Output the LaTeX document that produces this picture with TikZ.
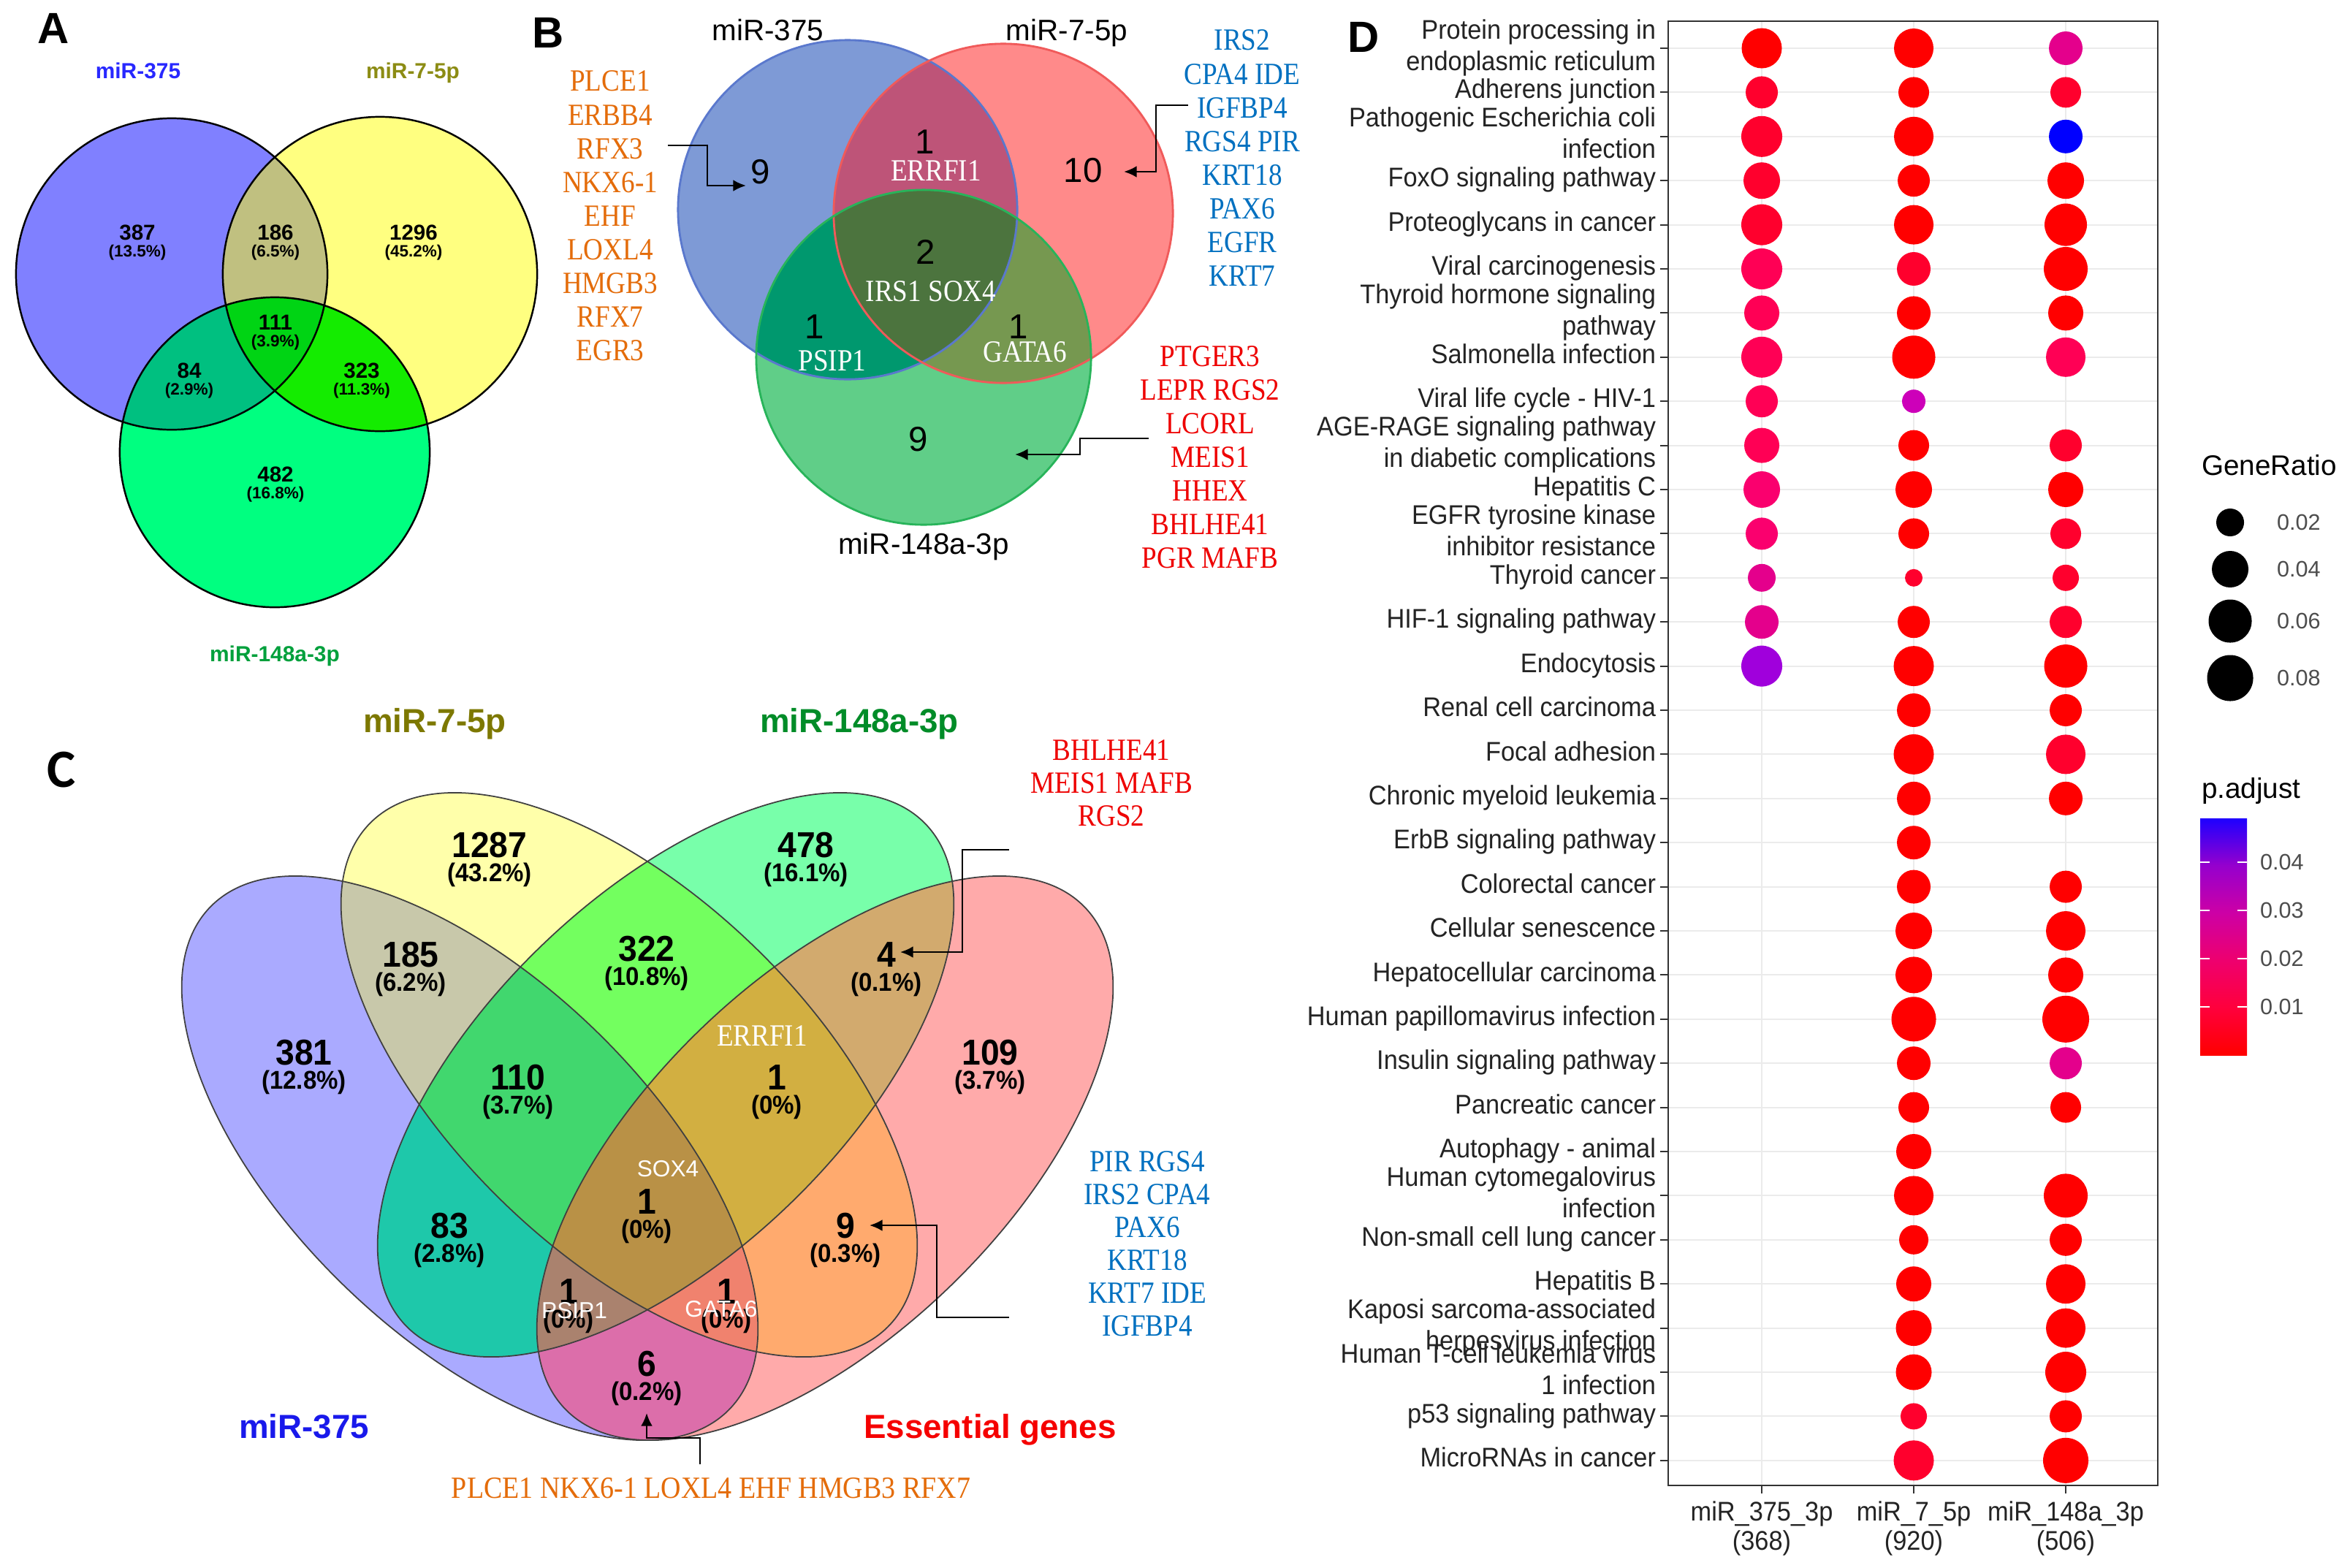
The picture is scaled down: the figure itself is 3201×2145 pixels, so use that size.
\documentclass[tikz,border=0pt]{standalone}
\usepackage{fontspec}
\usepackage{graphicx}
\setmainfont{Liberation Serif}
\setsansfont{Liberation Sans}
\newfontfamily\carl{Carlito}
\usetikzlibrary{arrows.meta}
% panel A colours
\definecolor{aB}{RGB}{128,128,255}\definecolor{aY}{RGB}{255,255,128}\definecolor{aG}{RGB}{0,255,128}
\definecolor{aBY}{RGB}{192,192,128}\definecolor{aBG}{RGB}{0,192,128}\definecolor{aYG}{RGB}{20,236,0}\definecolor{aAll}{RGB}{0,212,20}
\definecolor{aT1}{RGB}{40,40,255}\definecolor{aT2}{RGB}{140,140,20}\definecolor{aT3}{RGB}{0,160,60}
% panel B colours
\definecolor{bB}{RGB}{126,154,214}\definecolor{bR}{RGB}{255,138,138}\definecolor{bG}{RGB}{96,206,136}
\definecolor{bBR}{RGB}{190,84,120}\definecolor{bBG}{RGB}{0,152,110}\definecolor{bRG}{RGB}{118,152,80}\definecolor{bAll}{RGB}{76,116,62}
\definecolor{bBe}{RGB}{90,120,205}\definecolor{bRe}{RGB}{240,90,90}\definecolor{bGe}{RGB}{40,180,90}
% panel C colours
\definecolor{cA}{RGB}{170,170,255}\definecolor{cB}{RGB}{255,255,170}\definecolor{cC}{RGB}{120,255,170}\definecolor{cD}{RGB}{255,170,170}
\definecolor{cAB}{RGB}{200,200,170}\definecolor{cBC}{RGB}{115,255,95}\definecolor{cCD}{RGB}{210,170,110}
\definecolor{cAC}{RGB}{30,200,170}\definecolor{cBD}{RGB}{255,170,110}\definecolor{cAD}{RGB}{220,110,170}
\definecolor{cABC}{RGB}{65,215,110}\definecolor{cBCD}{RGB}{210,175,65}\definecolor{cABD}{RGB}{240,130,110}
\definecolor{cACD}{RGB}{170,130,110}\definecolor{cABCD}{RGB}{185,145,70}
\definecolor{cT1}{RGB}{25,25,235}\definecolor{cT2}{RGB}{125,120,0}\definecolor{cT3}{RGB}{0,140,40}\definecolor{cT4}{RGB}{245,0,0}
% text colours
\definecolor{tOrange}{RGB}{228,108,10}\definecolor{tBlue}{RGB}{0,112,192}\definecolor{tRed}{RGB}{238,0,0}
% panel D colours
\definecolor{dr0}{RGB}{255,0,0}\definecolor{dr1}{RGB}{255,0,45}\definecolor{dr2}{RGB}{255,0,85}\definecolor{dr3}{RGB}{250,0,110}
\definecolor{dm1}{RGB}{228,0,140}\definecolor{dm2}{RGB}{205,0,185}\definecolor{dpu}{RGB}{160,0,220}\definecolor{dbl}{RGB}{0,0,255}
\definecolor{dtext}{RGB}{35,35,35}\definecolor{dgrid}{RGB}{235,235,235}\definecolor{dbord}{RGB}{51,51,51}\definecolor{dleg}{RGB}{77,77,77}
\definecolor{pa0}{RGB}{255,0,0}\definecolor{pa1}{RGB}{255,0,60}\definecolor{pa2}{RGB}{238,0,110}
\definecolor{pa3}{RGB}{205,0,165}\definecolor{pa4}{RGB}{150,0,205}\definecolor{pa5}{RGB}{30,0,255}
\pgfdeclareverticalshading{padj}{100bp}{color(0bp)=(pa0); color(25bp)=(pa0); color(35bp)=(pa1); color(45bp)=(pa2); color(55bp)=(pa3); color(65bp)=(pa4); color(75bp)=(pa5); color(100bp)=(pa5)}
\newcommand\fsz[2]{\fontsize{#1}{#2}\selectfont}
\newcommand\nx[2]{\scalebox{#1}[1]{\begin{tabular}{@{}c@{}}#2\end{tabular}}}
\newcommand\rx[1]{\scalebox{0.93}[1]{\begin{tabular}{@{}r@{}}#1\end{tabular}}}
\newcommand\cn[1]{\scalebox{0.94}[1]{#1}}
% count + percentage blocks
\newcommand\ca[2]{\begin{tabular}{@{}c@{}}#1\\[-3.6pt]\fsz{6.4}{7.5}(#2\%)\end{tabular}}
\newcommand\cc[2]{\begin{tabular}{@{}c@{}}\cn{#1}\\[-6.6pt]\fsz{10}{12}\cn{(#2\%)}\end{tabular}}
% panel A circles
\newcommand\CAb{(235,375) circle [radius=2.13cm]}
\newcommand\CAy{(520,375) circle [radius=2.15cm]}
\newcommand\CAg{(376,619) circle [radius=2.12cm]}
% panel B circles
\newcommand\CBb{(1160,287) circle [radius=2.32cm]}
\newcommand\CBr{(1373,292) circle [radius=2.32cm]}
\newcommand\CBg{(1264,489) circle [radius=2.29cm]}
% panel C ellipses
\newcommand\EA{(643,1585) ellipse [x radius=4.94cm, y radius=2.45cm]}
\newcommand\EB{(861,1471) ellipse [x radius=4.94cm, y radius=2.45cm]}
\newcommand\EC{(911,1471) ellipse [x radius=4.94cm, y radius=2.45cm]}
\newcommand\ED{(1129,1585) ellipse [x radius=4.94cm, y radius=2.45cm]}
\begin{document}
\begin{tikzpicture}[x=0.01cm,y=-0.01cm,
  every node/.style={inner sep=0pt, outer sep=0pt},
  eA/.style={rotate around={-44:(643,1585)}},
  eB/.style={rotate around={-44:(861,1471)}},
  eC/.style={rotate around={44:(911,1471)}},
  eD/.style={rotate around={44:(1129,1585)}},
  plab/.style={font={\sffamily\bfseries\fsz{17}{20}}},
  acnt/.style={font={\sffamily\bfseries\fsz{8.4}{10}}},
  atit/.style={font={\sffamily\bfseries\fsz{8.5}{10}}, anchor=base},
  btit/.style={font={\sffamily\fsz{11.5}{13}}, anchor=base},
  bnum/.style={font={\sffamily\fsz{13.5}{15}}},
  bwhite/.style={font={\rmfamily\fsz{12}{13}}, text=white},
  glist/.style={font={\rmfamily\fsz{12}{13.1}}},
  glistc/.style={font={\rmfamily\fsz{12}{12.8}}},
  ccnt/.style={font={\sffamily\bfseries\fsz{14}{16}}},
  ctit/.style={font={\sffamily\bfseries\fsz{13}{15}}, anchor=base},
  cwsans/.style={font={\sffamily\fsz{9}{10}}, text=white},
  arr/.style={line width=0.8pt, -{Latex[length=5pt,width=4.5pt]}},
  cedge/.style={draw=black!75, line width=0.5pt},
  dlab/.style={font={\sffamily\fsz{10.5}{12.2}}, text=dtext, anchor=east},
  daxis/.style={font={\sffamily\fsz{10.5}{11.4}}, text=dtext},
  ltit/.style={font={\sffamily\fsz{11}{13}}, text=black, anchor=west},
  ltxt/.style={font={\sffamily\fsz{8.7}{10}}, text=dleg, anchor=west},
  grid/.style={draw=dgrid, line width=0.6pt},
  tick/.style={draw=dbord, line width=0.6pt}
]
\useasboundingbox (0,0) rectangle (3201,2145);
\fill[white] (0,0) rectangle (3201,2145);

%================ Panel A ================
\fill[aB] \CAb; \fill[aY] \CAy; \fill[aG] \CAg;
\begin{scope}\clip \CAb; \fill[aBY] \CAy; \end{scope}
\begin{scope}\clip \CAb; \fill[aBG] \CAg; \end{scope}
\begin{scope}\clip \CAy; \fill[aYG] \CAg; \end{scope}
\begin{scope}\clip \CAb; \clip \CAy; \fill[aAll] \CAg; \end{scope}
\draw[line width=0.7pt] \CAb; \draw[line width=0.7pt] \CAy; \draw[line width=0.7pt] \CAg;
\node[plab] (labA) at (73,39) {A};
\node[atit, text=aT1] (aT1n) at (189,107) {miR-375};
\node[atit, text=aT2] (aT2n) at (565,107) {miR-7-5p};
\node[atit, text=aT3] (aT3n) at (376,905) {miR-148a-3p};
\node[acnt] (a1) at (188,333) {\ca{387}{13.5}};
\node[acnt] (a2) at (377,333) {\ca{186}{6.5}};
\node[acnt] (a3) at (566,333) {\ca{1296}{45.2}};
\node[acnt] (a4) at (377,456) {\ca{111}{3.9}};
\node[acnt] (a5) at (259,522) {\ca{84}{2.9}};
\node[acnt] (a6) at (495,522) {\ca{323}{11.3}};
\node[acnt] (a7) at (377,664) {\ca{482}{16.8}};

%================ Panel B ================
\fill[bB] \CBb; \fill[bR] \CBr; \fill[bG] \CBg;
\begin{scope}\clip \CBb; \fill[bBR] \CBr; \end{scope}
\begin{scope}\clip \CBb; \fill[bBG] \CBg; \end{scope}
\begin{scope}\clip \CBr; \fill[bRG] \CBg; \end{scope}
\begin{scope}\clip \CBb; \clip \CBr; \fill[bAll] \CBg; \end{scope}
\draw[bBe, line width=0.8pt] \CBb; \draw[bRe, line width=0.8pt] \CBr; \draw[bGe, line width=0.8pt] \CBg;
\node[plab] (labB) at (750,45) {B};
\node[btit] (bT1) at (1051,55) {miR-375};
\node[btit] (bT2) at (1460,55) {miR-7-5p};
\node[btit] (bT3) at (1264,758) {miR-148a-3p};
\node[bnum] (b9a) at (1041,235) {9};
\node[bnum] (b1a) at (1266,194) {1};
\node[bwhite] (bw1) at (1281,234) {\scalebox{0.88}[1]{ERRFI1}};
\node[bnum] (b10) at (1482,233) {10};
\node[bnum] (b2) at (1267,345) {2};
\node[bwhite] (bw2) at (1274,399) {\scalebox{0.88}[1]{IRS1 SOX4}};
\node[bnum] (b1b) at (1115,447) {1};
\node[bwhite] (bw3) at (1139,494) {\scalebox{0.88}[1]{PSIP1}};
\node[bnum] (b1c) at (1394,447) {1};
\node[bwhite] (bw4) at (1403,482) {\scalebox{0.88}[1]{GATA6}};
\node[bnum] (b9b) at (1257,601) {9};
\node[glist, text=tOrange] (bl1) at (835,300) {\nx{0.88}{PLCE1\\ERBB4\\RFX3\\NKX6-1\\EHF\\LOXL4\\HMGB3\\RFX7\\EGR3}};
\node[glist, text=tBlue] (bl2) at (1700,221) {\nx{0.88}{IRS2\\CPA4 IDE\\IGFBP4\\RGS4 PIR\\KRT18\\PAX6\\EGFR\\KRT7}};
\node[glist, text=tRed] (bl3) at (1656,630) {\nx{0.88}{PTGER3\\LEPR RGS2\\LCORL\\MEIS1\\HHEX\\BHLHE41\\PGR MAFB}};
\coordinate (ba1s) at (914,199); \coordinate (ba1b) at (968,254); \coordinate (ba1e) at (1021,254);
\draw[arr] (ba1s) -| (ba1b) -- (ba1e);
\coordinate (ba2s) at (1626,144); \coordinate (ba2b) at (1582,235); \coordinate (ba2e) at (1538,235);
\draw[arr] (ba2s) -| (ba2b) -- (ba2e);
\coordinate (ba3s) at (1572,600); \coordinate (ba3b) at (1478,622); \coordinate (ba3e) at (1389,622);
\draw[arr] (ba3s) -| (ba3b) -- (ba3e);

%================ Panel C ================
\fill[cA,eA] \EA; \fill[cB,eB] \EB; \fill[cC,eC] \EC; \fill[cD,eD] \ED;
\begin{scope}\clip[eA] \EA; \fill[cAB,eB] \EB; \end{scope}
\begin{scope}\clip[eA] \EA; \fill[cAC,eC] \EC; \end{scope}
\begin{scope}\clip[eA] \EA; \fill[cAD,eD] \ED; \end{scope}
\begin{scope}\clip[eB] \EB; \fill[cBC,eC] \EC; \end{scope}
\begin{scope}\clip[eB] \EB; \fill[cBD,eD] \ED; \end{scope}
\begin{scope}\clip[eC] \EC; \fill[cCD,eD] \ED; \end{scope}
\begin{scope}\clip[eA] \EA; \clip[eB] \EB; \fill[cABC,eC] \EC; \end{scope}
\begin{scope}\clip[eA] \EA; \clip[eB] \EB; \fill[cABD,eD] \ED; \end{scope}
\begin{scope}\clip[eA] \EA; \clip[eC] \EC; \fill[cACD,eD] \ED; \end{scope}
\begin{scope}\clip[eB] \EB; \clip[eC] \EC; \fill[cBCD,eD] \ED; \end{scope}
\begin{scope}\clip[eA] \EA; \clip[eB] \EB; \clip[eC] \EC; \fill[cABCD,eD] \ED; \end{scope}
\draw[cedge,eA] \EA; \draw[cedge,eB] \EB; \draw[cedge,eC] \EC; \draw[cedge,eD] \ED;
\node[font={\carl\bfseries\fsz{21}{24}}] (labC) at (84,1054) {C};
\node[ctit, text=cT2] (cT2n) at (595,1002) {miR-7-5p};
\node[ctit, text=cT3] (cT3n) at (1176,1002) {miR-148a-3p};
\node[ctit, text=cT1] (cT1n) at (416,1968) {miR-375};
\node[ctit, text=cT4] (cT4n) at (1355,1968) {Essential genes};
\node[ccnt] (c1) at (670,1179) {\cc{1287}{43.2}};
\node[ccnt] (c2) at (1103,1179) {\cc{478}{16.1}};
\node[ccnt] (c3) at (562,1329) {\cc{185}{6.2}};
\node[ccnt] (c4) at (885,1321) {\cc{322}{10.8}};
\node[ccnt] (c5) at (1213,1329) {\cc{4}{0.1}};
\node[ccnt] (c6) at (416,1463) {\cc{381}{12.8}};
\node[ccnt] (c7) at (1355,1463) {\cc{109}{3.7}};
\node[ccnt] (c8) at (709,1497) {\cc{110}{3.7}};
\node[font={\rmfamily\fsz{12}{13}}, text=white] (cw1) at (1043,1418) {\scalebox{0.88}[1]{ERRFI1}};
\node[ccnt] (c9) at (1063,1497) {\cc{1}{0}};
\node[cwsans] (cw2) at (914,1600) {SOX4};
\node[ccnt] (c10) at (885,1667) {\cc{1}{0}};
\node[ccnt] (c11) at (615,1700) {\cc{83}{2.8}};
\node[ccnt] (c12) at (1157,1700) {\cc{9}{0.3}};
\node[ccnt] (c13) at (778,1790) {\cc{1}{0}};
\node[cwsans] (cw3) at (786,1794) {PSIP1};
\node[ccnt] (c14) at (994,1790) {\cc{1}{0}};
\node[cwsans] (cw4) at (987,1792) {GATA6};
\node[ccnt] (c15) at (885,1889) {\cc{6}{0.2}};
\node[glistc, text=tRed] (cl1) at (1521,1076) {\nx{0.88}{BHLHE41\\MEIS1 MAFB\\RGS2}};
\node[glistc, text=tBlue] (cl2) at (1570,1707) {\nx{0.88}{PIR RGS4\\IRS2 CPA4\\PAX6\\KRT18\\KRT7 IDE\\IGFBP4}};
\node[glistc, text=tOrange] (cl3) at (973,2037) {\scalebox{0.9}[1]{PLCE1 NKX6-1 LOXL4 EHF HMGB3 RFX7}};
\coordinate (ca1s) at (1381,1163); \coordinate (ca1b) at (1317,1303); \coordinate (ca1e) at (1232,1303);
\draw[arr, line width=0.7pt] (ca1s) -| (ca1b) -- (ca1e);
\coordinate (ca2s) at (1381,1803); \coordinate (ca2b) at (1282,1677); \coordinate (ca2e) at (1190,1677);
\draw[arr, line width=0.7pt] (ca2s) -| (ca2b) -- (ca2e);
\coordinate (ca3s) at (958,2004); \coordinate (ca3b) at (885,1968); \coordinate (ca3e) at (885,1934);
\draw[arr, line width=0.7pt] (ca3s) |- (ca3b) -- (ca3e);

%================ Panel D ================
\node[plab] (labD) at (1866,51) {D};
\foreach \r in {1,...,33} \draw[grid] (2283,{66+(\r-1)*60.4}) -- (2953,{66+(\r-1)*60.4});
\foreach \c in {1,2,3} \draw[grid] ({2203+208*\c},29) -- ({2203+208*\c},2033);
\foreach \r/\c/\s/\k in {
 1/1/27.5/dr0, 1/2/27/dr0, 1/3/23/dm1,
 2/1/22/dr1, 2/2/21/dr0, 2/3/21/dr1,
 3/1/28/dr1, 3/2/27/dr0, 3/3/23/dbl,
 4/1/25/dr1, 4/2/22/dr0, 4/3/25/dr0,
 5/1/28/dr1, 5/2/27/dr0, 5/3/29/dr0,
 6/1/28/dr2, 6/2/23/dr1, 6/3/30/dr0,
 7/1/24/dr2, 7/2/23/dr0, 7/3/24/dr0,
 8/1/28/dr2, 8/2/29.5/dr0, 8/3/27/dr2,
 9/1/22/dr2, 9/2/16/dm2,
 10/1/24/dr2, 10/2/21/dr0, 10/3/22/dr1,
 11/1/25/dr3, 11/2/25/dr0, 11/3/24/dr0,
 12/1/22/dr3, 12/2/21/dr0, 12/3/21/dr1,
 13/1/19/dm1, 13/2/12/dr1, 13/3/18/dr1,
 14/1/23/dm1, 14/2/22/dr0, 14/3/22/dr1,
 15/1/28/dpu, 15/2/27.5/dr0, 15/3/29.5/dr0,
 16/2/23/dr0, 16/3/22/dr0,
 17/2/27.5/dr0, 17/3/27/dr1,
 18/2/23/dr0, 18/3/23/dr0,
 19/2/23/dr0,
 20/2/23/dr0, 20/3/22/dr0,
 21/2/25/dr0, 21/3/27/dr0,
 22/2/25/dr0, 22/3/24/dr0,
 23/2/30.5/dr0, 23/3/32/dr0,
 24/2/23/dr0, 24/3/22/dm1,
 25/2/21/dr0, 25/3/21/dr0,
 26/2/24/dr0,
 27/2/27/dr0, 27/3/30/dr0,
 28/2/20/dr0, 28/3/22/dr0,
 29/2/24/dr0, 29/3/27/dr0,
 30/2/24.5/dr0, 30/3/27/dr0,
 31/2/24.5/dr0, 31/3/28/dr0,
 32/2/18/dr1, 32/3/22/dr0,
 33/2/27.5/dr1, 33/3/31/dr0}
 \fill[\k] ({2203+208*\c},{66+(\r-1)*60.4}) circle [radius={\s*0.01cm}];
\draw[dbord, line width=0.8pt] (2283,29) rectangle (2953,2033);
\foreach \r in {1,...,33} \draw[tick] (2272,{66+(\r-1)*60.4}) -- (2283,{66+(\r-1)*60.4});
\foreach \c in {1,2,3} \draw[tick] ({2203+208*\c},2033) -- ({2203+208*\c},2044);
\node[dlab] (d1) at (2266,66) {\rx{Protein processing in\\endoplasmic reticulum}};
\node[dlab] (d2) at (2266,126.4) {\rx{Adherens junction}};
\node[dlab] (d3) at (2266,186.8) {\rx{Pathogenic Escherichia coli\\infection}};
\node[dlab] (d4) at (2266,247.2) {\rx{FoxO signaling pathway}};
\node[dlab] (d5) at (2266,307.6) {\rx{Proteoglycans in cancer}};
\node[dlab] (d6) at (2266,368) {\rx{Viral carcinogenesis}};
\node[dlab] (d7) at (2266,428.4) {\rx{Thyroid hormone signaling\\pathway}};
\node[dlab] (d8) at (2266,488.8) {\rx{Salmonella infection}};
\node[dlab] (d9) at (2266,549.2) {\rx{Viral life cycle - HIV-1}};
\node[dlab] (d10) at (2266,609.6) {\rx{AGE-RAGE signaling pathway\\in diabetic complications}};
\node[dlab] (d11) at (2266,670) {\rx{Hepatitis C}};
\node[dlab] (d12) at (2266,730.4) {\rx{EGFR tyrosine kinase\\inhibitor resistance}};
\node[dlab] (d13) at (2266,790.8) {\rx{Thyroid cancer}};
\node[dlab] (d14) at (2266,851.2) {\rx{HIF-1 signaling pathway}};
\node[dlab] (d15) at (2266,911.6) {\rx{Endocytosis}};
\node[dlab] (d16) at (2266,972) {\rx{Renal cell carcinoma}};
\node[dlab] (d17) at (2266,1032.4) {\rx{Focal adhesion}};
\node[dlab] (d18) at (2266,1092.8) {\rx{Chronic myeloid leukemia}};
\node[dlab] (d19) at (2266,1153.2) {\rx{ErbB signaling pathway}};
\node[dlab] (d20) at (2266,1213.6) {\rx{Colorectal cancer}};
\node[dlab] (d21) at (2266,1274) {\rx{Cellular senescence}};
\node[dlab] (d22) at (2266,1334.4) {\rx{Hepatocellular carcinoma}};
\node[dlab] (d23) at (2266,1394.8) {\rx{Human papillomavirus infection}};
\node[dlab] (d24) at (2266,1455.2) {\rx{Insulin signaling pathway}};
\node[dlab] (d25) at (2266,1515.6) {\rx{Pancreatic cancer}};
\node[dlab] (d26) at (2266,1576) {\rx{Autophagy - animal}};
\node[dlab] (d27) at (2266,1636.4) {\rx{Human cytomegalovirus\\infection}};
\node[dlab] (d28) at (2266,1696.8) {\rx{Non-small cell lung cancer}};
\node[dlab] (d29) at (2266,1757.2) {\rx{Hepatitis B}};
\node[dlab] (d30) at (2266,1817.6) {\rx{Kaposi sarcoma-associated\\herpesvirus infection}};
\node[dlab] (d31) at (2266,1878) {\rx{Human T-cell leukemia virus\\1 infection}};
\node[dlab] (d32) at (2266,1938.4) {\rx{p53 signaling pathway}};
\node[dlab] (d33) at (2266,1998.8) {\rx{MicroRNAs in cancer}};
\node[daxis] (x1) at (2411,2093) {\nx{0.93}{miR\_375\_3p\\(368)}};
\node[daxis] (x2) at (2619,2093) {\nx{0.93}{miR\_7\_5p\\(920)}};
\node[daxis] (x3) at (2827,2093) {\nx{0.93}{miR\_148a\_3p\\(506)}};
% legend
\node[ltit] (lg1) at (3013,637) {GeneRatio};
\fill[black] (3052,715) circle [radius=0.19cm];
\fill[black] (3052,779) circle [radius=0.25cm];
\fill[black] (3052,850) circle [radius=0.295cm];
\fill[black] (3052,928) circle [radius=0.315cm];
\node[ltxt] (lg2) at (3116,715) {0.02};
\node[ltxt] (lg3) at (3116,779) {0.04};
\node[ltxt] (lg4) at (3116,850) {0.06};
\node[ltxt] (lg5) at (3116,928) {0.08};
\node[ltit] (lg6) at (3013,1082) {p.adjust};
\shade[shading=padj] (3011,1120) rectangle (3075,1444);
\foreach \yy/\t in {1180/0.04,1246/0.03,1312/0.02,1378/0.01}{
  \draw[white, line width=0.7pt] (3011,\yy) -- (3024,\yy) (3062,\yy) -- (3075,\yy);
  \node[ltxt] at (3093,\yy) {\t};
}
\end{tikzpicture}
\end{document}
